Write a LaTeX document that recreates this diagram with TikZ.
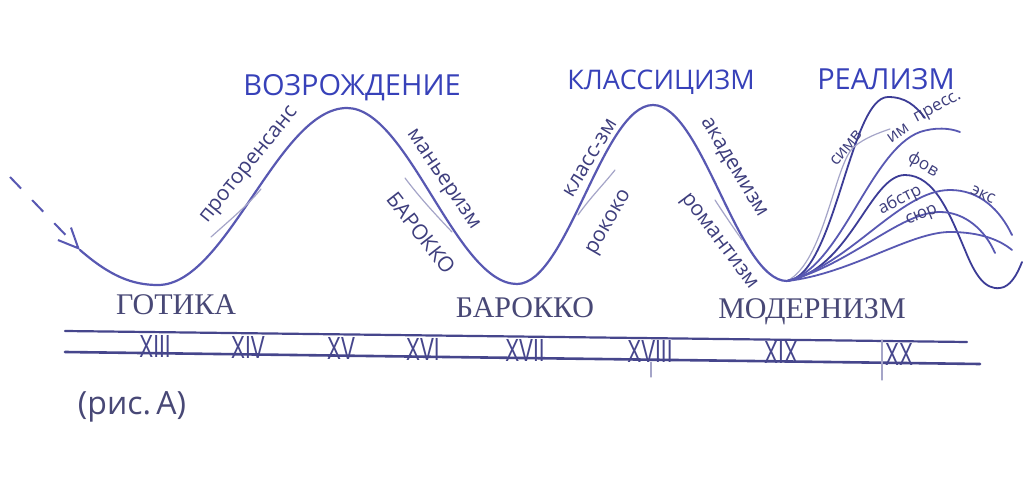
\documentclass[tikz,border=0pt]{standalone}
\usepackage{fontspec}
\setmainfont{Open Sans}
\newfontfamily\serifc{Liberation Serif}
\newfontfamily\numf{Liberation Sans}
\usetikzlibrary{arrows.meta}
\definecolor{curvecol}{RGB}{88,88,178}
\definecolor{darkcurve}{RGB}{60,60,150}
\definecolor{headcol}{RGB}{55,65,185}
\definecolor{eracol}{RGB}{72,72,118}
\definecolor{subcol}{RGB}{62,62,125}
\definecolor{branchcol}{RGB}{165,165,200}
\definecolor{linecol}{RGB}{70,70,140}
\begin{document}
\begin{tikzpicture}[x=0.5pt,y=-0.5pt,
  head/.style={text=headcol, font=\fontsize{14.5}{16}\selectfont, inner sep=0pt},
  era/.style={text=eracol, font=\serifc\fontsize{15}{17}\selectfont, inner sep=0pt},
  sub/.style={text=subcol, font=\fontsize{10.5}{12}\selectfont, inner sep=0pt},
  rsub/.style={text=subcol, font=\fontsize{8.5}{10}\selectfont, inner sep=0pt},
  num/.style={text=linecol, font=\numf\fontsize{16}{18}\selectfont, inner sep=0pt},
  maincurve/.style={draw=curvecol, line width=1.1pt, line cap=round},
  rcurve/.style={draw=curvecol, line width=0.9pt, line cap=round},
  branch/.style={draw=branchcol, line width=0.6pt, line cap=round},
  axisline/.style={draw=linecol, line width=1.1pt, line cap=round}]
\useasboundingbox[fill=white] (0,0) rectangle (1024,498);

% key points
\coordinate (s) at (10,177);
\coordinate (a) at (80,250);
\coordinate (t1) at (158,285);
\coordinate (p1) at (347,108);
\coordinate (t2) at (517,284);
\coordinate (p2) at (653,105);
\coordinate (o) at (787,281);

% dashed lead-in arrow
\draw[draw=curvecol, line width=1pt, dash pattern=on 8pt off 8pt,
  -{Straight Barb[length=10pt,width=9pt]}] (s) -- (a);

% main wave
\draw[maincurve] (a) .. controls (110,276) and (132,285) .. (t1)
  .. controls (227,285) and (278,108) .. (p1)
  .. controls (408,108) and (456,284) .. (t2)
  .. controls (567,284) and (603,105) .. (p2)
  .. controls (702,105) and (738,281) .. (o);

% realism fan
\draw[rcurve, draw=darkcurve] (o) .. controls (835,276) and (850,97) .. (888,97)
  .. controls (905,97) and (915,105) .. (925,118);
\draw[branch] (o) .. controls (825,262) and (835,160) .. (855,146)
  .. controls (865,138) and (878,133) .. (890,129);
\draw[rcurve] (o) .. controls (840,270) and (870,150) .. (920,132)
  .. controls (935,127) and (950,128) .. (960,132);
\draw[rcurve, draw=darkcurve] (o) .. controls (850,270) and (870,175) .. (905,175)
  .. controls (935,175) and (950,215) .. (965,250)
  .. controls (975,275) and (985,290) .. (1000,288)
  .. controls (1010,287) and (1017,275) .. (1022,262);
\draw[rcurve] (o) .. controls (850,265) and (900,190) .. (950,190)
  .. controls (980,190) and (1000,210) .. (1012,235);
\draw[rcurve] (o) .. controls (850,265) and (900,212) .. (940,212)
  .. controls (965,212) and (985,230) .. (995,253);
\draw[rcurve] (o) .. controls (850,274) and (910,232) .. (950,232)
  .. controls (980,232) and (1000,240) .. (1012,250);

% thin branch lines
\draw[branch] (211,237) .. controls (230,220) and (248,205) .. (261,189);
\draw[branch] (405,178) .. controls (420,198) and (436,215) .. (452,232);
\draw[branch] (578,215) .. controls (590,198) and (603,185) .. (615,170);
\draw[branch] (715,200) .. controls (724,214) and (733,227) .. (742,240);

% headings
\node[head] (vozr) at (352,88) {ВОЗРОЖДЕНИЕ};
\node[head, font=\fontsize{13.5}{15}\selectfont] (klass) at (661,82) {КЛАССИЦИЗМ};
\node[head] (real) at (886,79) {РЕАЛИЗМ};

% eras
\node[era] (got) at (176,305) {ГОТИКА};
\node[era] (bar) at (525,308) {БАРОККО};
\node[era] (mod) at (812,312) {МОДЕРНИЗМ};

% labels along the curve
\node[sub, rotate=51] (proto) at (250,166) {проторенсанс};
\node[sub, rotate=-56] (mann) at (442,180) {маньеризм};
\node[sub, rotate=-52] (bar2) at (421,233) {БАРОККО};
\node[sub, rotate=59] (klz) at (590,158) {класс-зм};
\node[sub, rotate=60] (rok) at (610,223) {рококо};
\node[sub, rotate=-59] (akad) at (733,168) {академизм};
\node[sub, rotate=-53] (rom) at (718,242) {романтизм};

\node[rsub, rotate=51] (simv) at (846,148) {симв};
\node[rsub, rotate=35] (im) at (898,133) {им};
\node[rsub, rotate=28] (press) at (938,108) {пресс.};
\node[rsub, rotate=-30] (fov) at (923,165) {фов};
\node[rsub, rotate=-25] (eks) at (983,195) {экс};
\node[rsub, rotate=27] (abstr) at (900,200) {абстр};
\node[rsub, rotate=22] (syur) at (922,216) {сюр};

% timeline
\coordinate (l1a) at (65,331);
\coordinate (l1b) at (967,342);
\coordinate (l2a) at (65,352);
\coordinate (l2b) at (980,364);
\draw[axisline] (l1a) -- (l1b);
\draw[axisline, line width=1.3pt] (l2a) -- (l2b);
\draw[branch] (651,362) -- (651,377);
\draw[branch] (882,340) -- (882,380);

\node[num] (c13) at (155,346) {\scalebox{0.65}[1]{XIII}};
\node[num] (c14) at (248,347) {\scalebox{0.65}[1]{XIV}};
\node[num] (c15) at (341,348) {\scalebox{0.65}[1]{XV}};
\node[num] (c16) at (423,349) {\scalebox{0.65}[1]{XVI}};
\node[num] (c17) at (525,350) {\scalebox{0.65}[1]{XVII}};
\node[num] (c18) at (650,351) {\scalebox{0.65}[1]{XVIII}};
\node[num] (c19) at (781,352.5) {\scalebox{0.65}[1]{XIX}};
\node[num] (c20) at (899,354) {\scalebox{0.65}[1]{XX}};

% caption
\node[era, font=\fontsize{16}{18}\selectfont] (cap) at (132,407) {(рис.\,А)};
\end{tikzpicture}
\end{document}
